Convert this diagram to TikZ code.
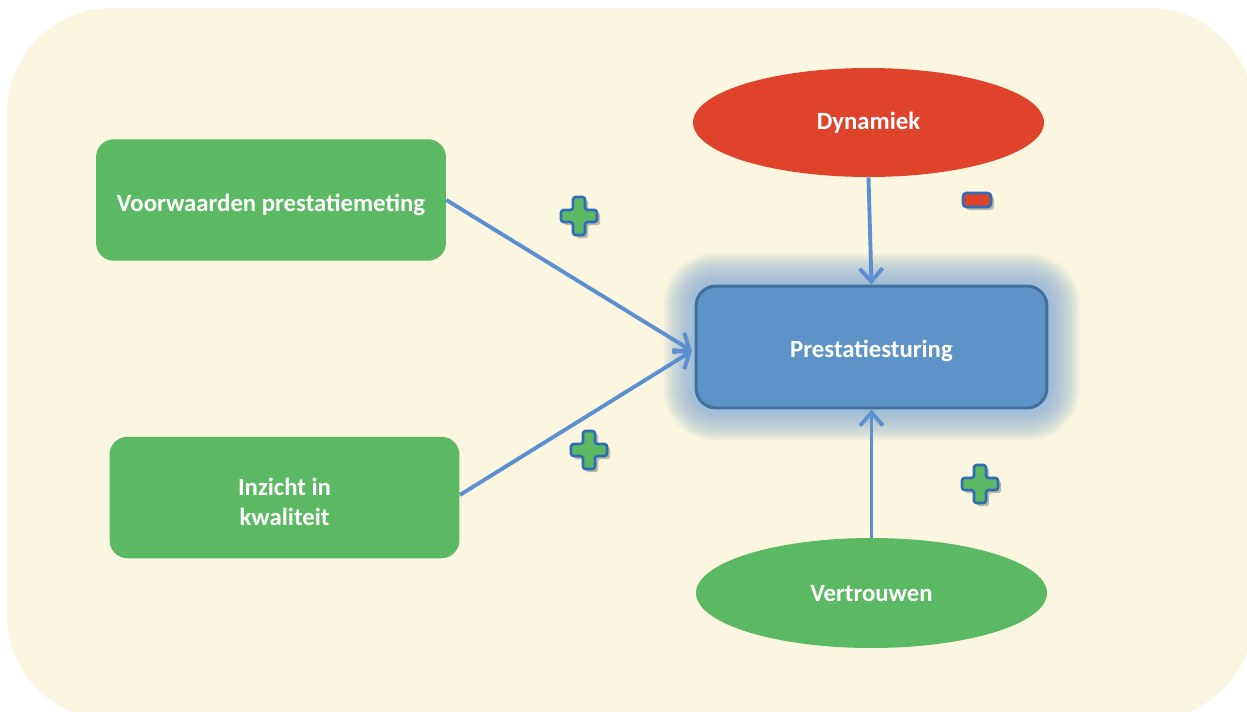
\documentclass[tikz,border=0pt]{standalone}
\usepackage{fontspec}
\setmainfont{Carlito}
\usetikzlibrary{arrows.meta,shapes.geometric}
\definecolor{bgc}{HTML}{FBF6DF}
\definecolor{gfill}{HTML}{5CB963}
\definecolor{rfill}{HTML}{E0432B}
\definecolor{bfill}{HTML}{5E93C7}
\definecolor{bdraw}{HTML}{41709C}
\definecolor{arr}{HTML}{5B8FD0}
\definecolor{glowc}{HTML}{8FB3D6}
\definecolor{signedge}{HTML}{2E6DB4}
\tikzset{
  lbl/.style={text=white, font=\bfseries\fontsize{14.1}{17}\selectfont, align=center},
  greenbox/.style={lbl, fill=gfill, rounded corners=0.36cm, minimum width=7cm, minimum height=2.43cm},
  greenell/.style={lbl, ellipse, fill=gfill, minimum width=7.02cm, minimum height=2.2cm, inner sep=0pt},
  redell/.style={lbl, ellipse, fill=rfill, minimum width=7.02cm, minimum height=2.18cm, inner sep=0pt},
  bluebox/.style={lbl, fill=bfill, draw=bdraw, line width=1.7pt, rounded corners=0.4cm, minimum width=7.02cm, minimum height=2.44cm},
  conn/.style={draw=arr, line width=2.2pt, -{Straight Barb[length=7.5pt,width=13pt,line width=2.2pt]}},
  plussign/.pic={
    \fill[black, opacity=0.25, rounded corners=1pt] ([shift={(3,3)}]-6,-19) -- ([shift={(3,3)}]6,-19) -- ([shift={(3,3)}]6,-6) -- ([shift={(3,3)}]18,-6) -- ([shift={(3,3)}]18,6) -- ([shift={(3,3)}]6,6) -- ([shift={(3,3)}]6,19) -- ([shift={(3,3)}]-6,19) -- ([shift={(3,3)}]-6,6) -- ([shift={(3,3)}]-18,6) -- ([shift={(3,3)}]-18,-6) -- ([shift={(3,3)}]-6,-6) -- cycle;
    \filldraw[fill=gfill, draw=signedge, line width=1.5pt, rounded corners=1.5pt] (-6,-19) -- (6,-19) -- (6,-6) -- (18,-6) -- (18,6) -- (6,6) -- (6,19) -- (-6,19) -- (-6,6) -- (-18,6) -- (-18,-6) -- (-6,-6) -- cycle;
  },
  minussign/.pic={
    \fill[black, opacity=0.25, rounded corners=2pt] (-11,-4) rectangle (17,10);
    \filldraw[fill=rfill, draw=signedge, line width=1.5pt, rounded corners=2pt] (-14,-7) rectangle (14,7);
  }
}
\begin{document}
\begin{tikzpicture}[x=0.02cm, y=-0.02cm]
\useasboundingbox (0,0) rectangle (1247,711);
\fill[bgc, rounded corners=2.1cm] (7,8) rectangle (1254,720);

% glow around central box
\foreach \o in {32,31,...,1}{
  \fill[glowc, opacity=0.045, rounded corners=0.4cm+\o*0.02cm] (695-\o,285-\o) rectangle (1048+\o,409+\o);
}

\node[greenbox] (voor) at (271,200) {\rule{0pt}{15pt}Voorwaarden prestatiemeting};
\node[greenbox] (inz) at (284.5,497.5) {\rule{0pt}{15pt}Inzicht in\\kwaliteit};
\node[redell] (dyn) at (868.5,122.5) {\rule{0pt}{10pt}Dynamiek};
\node[bluebox] (pres) at (871.5,347) {\rule{0pt}{14pt}Prestatiesturing};
\node[greenell] (ver) at (871.5,593) {\rule{0pt}{10pt}Vertrouwen};

\coordinate (pin) at (692,351);
\draw[conn] (voor.east) -- (pin);
\draw[conn] (inz.east |- 0,495) -- (pin);
\draw[conn] (dyn.south) -- (pres.north);
\draw[conn] (ver.north) -- (pres.south);

\pic at (579,216) {plussign};
\pic at (589,450) {plussign};
\pic at (980,484) {plussign};
\pic at (977,200) {minussign};
\end{tikzpicture}
\end{document}
